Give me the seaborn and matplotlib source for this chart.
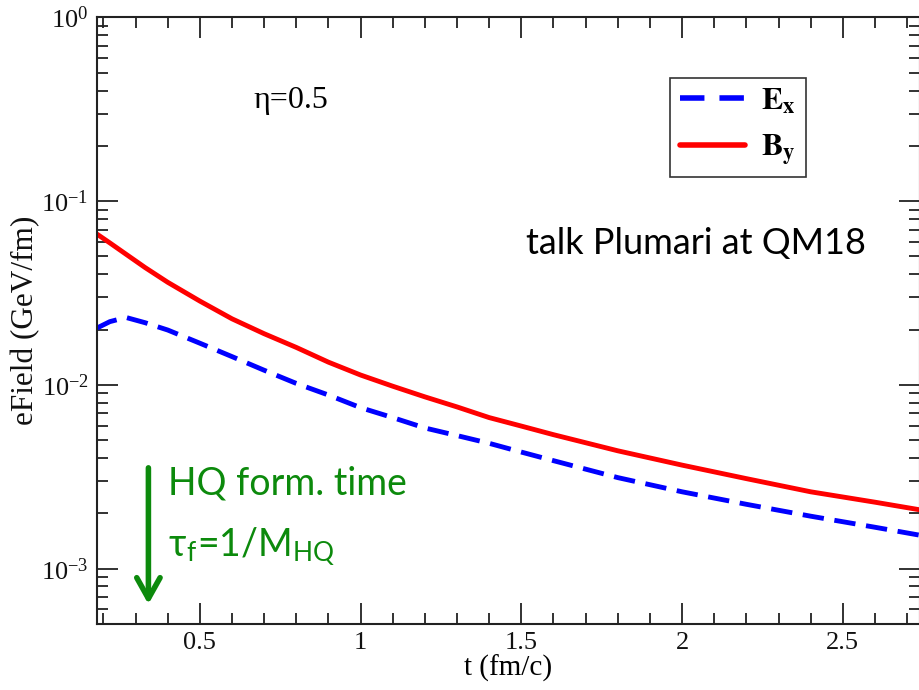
import matplotlib
matplotlib.use("Agg")
import matplotlib.pyplot as plt
import matplotlib.ticker as mticker
import seaborn as sns
import numpy as np
import pandas as pd

# t grid (fm/c) and the two field curves
t_vals = [0.18, 0.22, 0.27, 0.33, 0.4, 0.5, 0.6, 0.7, 0.8, 0.9, 1.0, 1.1, 1.2,
          1.3, 1.4, 1.5, 1.6, 1.8, 2.0, 2.2, 2.4, 2.6, 2.74]
ex_vals = [0.0204, 0.0221, 0.0233, 0.0218, 0.0199, 0.01687, 0.01426, 0.01202,
           0.01019, 0.00881, 0.00752, 0.00664, 0.00583, 0.00530, 0.00481,
           0.00431, 0.00387, 0.00313, 0.00262, 0.00224, 0.00193, 0.00168, 0.00152]
by_vals = [0.0662, 0.0593, 0.0515, 0.0435, 0.0362, 0.0286, 0.0229, 0.0190,
           0.0160, 0.0133, 0.01132, 0.00984, 0.00861, 0.00759, 0.00664,
           0.00597, 0.00536, 0.00438, 0.00366, 0.00309, 0.00262, 0.00230, 0.00209]
labels = [r"$\mathbf{E_x}$", r"$\mathbf{B_y}$"]
tau_f = 0.34  # HQ formation time marker

sns.set_theme(style="ticks")
plt.rcParams["font.family"] = ["Liberation Serif", "DejaVu Serif"]
plt.rcParams["mathtext.fontset"] = "stix"
for k in ["text.color", "axes.labelcolor", "xtick.color", "ytick.color"]:
    plt.rcParams[k] = "black"

df = pd.DataFrame({"t": t_vals * 2,
                   "field": ex_vals + by_vals,
                   "comp": [labels[0]] * len(t_vals) + [labels[1]] * len(t_vals)})

fig = plt.figure(figsize=(9.2, 6.9), dpi=100)
ax = fig.add_axes([0.1054, 0.0957, 0.8946, 0.879])

sns.lineplot(data=df, x="t", y="field", hue="comp", style="comp",
             palette={labels[0]: "#0000ff", labels[1]: "#ff0000"},
             dashes={labels[0]: (4.4, 2.2), labels[1]: ""},
             linewidth=3.5, ax=ax, legend=True)

ax.set_yscale("log")
ax.set_xlim(0.18, 2.74)
ax.set_ylim(5e-4, 1.0)
ax.xaxis.set_major_locator(mticker.MultipleLocator(0.5))
ax.xaxis.set_minor_locator(mticker.MultipleLocator(0.1))
ax.xaxis.set_major_formatter(mticker.FuncFormatter(lambda v, p: f"{v:g}"))
ax.yaxis.set_major_locator(mticker.LogLocator(base=10, numticks=10))
ax.yaxis.set_minor_locator(mticker.LogLocator(base=10, subs=np.arange(2, 10), numticks=20))
ax.yaxis.set_minor_formatter(mticker.NullFormatter())
ax.tick_params(which="both", top=True, right=True, direction="in",
               color="#222222", width=1.3, labelsize=19, labelcolor="#111111")
ax.tick_params(which="major", length=15, pad=6)
ax.tick_params(which="minor", length=8)
for s in ax.spines.values():
    s.set_linewidth(1.5)
    s.set_color("#222222")

ax.set_xlabel("t (fm/c)", fontsize=21, labelpad=0)
ax.set_ylabel("eField (GeV/fm)", fontsize=22.5, labelpad=1, color="#111111")

leg = ax.legend(loc="upper right", bbox_to_anchor=(0.861, 0.901), borderaxespad=0,
                fontsize=23, handlelength=2.05, frameon=True, fancybox=False,
                edgecolor="#333333", framealpha=1, borderpad=0.3,
                labelspacing=0.5, handletextpad=0.5)
leg.get_frame().set_linewidth(1.2)
for line in leg.get_lines():
    line.set_linewidth(4)
leg.get_lines()[0].set_dashes((4.4, 2.7))

ax.text(0.236, 0.863, "η=0.5", transform=ax.transAxes, fontsize=23,
        ha="center", va="center")
ax.text(0.728, 0.628, "talk Plumari at QM18", transform=ax.transAxes,
        fontsize=26, ha="center", va="center", color="black",
        family=["Lato", "DejaVu Sans"])

green = "#0c8a0c"
ax.text(0.086, 0.232, "HQ form. time", transform=ax.transAxes, fontsize=27,
        color=green, ha="left", va="center", family=["Lato", "DejaVu Sans"])
ax.text(0.086, 0.128, r"τ$_\mathregular{f}$=1/M$_\mathregular{HQ}$",
        transform=ax.transAxes, fontsize=27, color=green, ha="left",
        va="center", family=["Lato", "DejaVu Sans"])
ax.annotate("", xy=(tau_f, 0.028), xycoords=("data", "axes fraction"),
            xytext=(tau_f, 0.262), textcoords=("data", "axes fraction"),
            arrowprops=dict(arrowstyle="->, head_length=0.75, head_width=0.42",
                            color=green, lw=4, mutation_scale=20))

fig.savefig("out.png", dpi=100)
